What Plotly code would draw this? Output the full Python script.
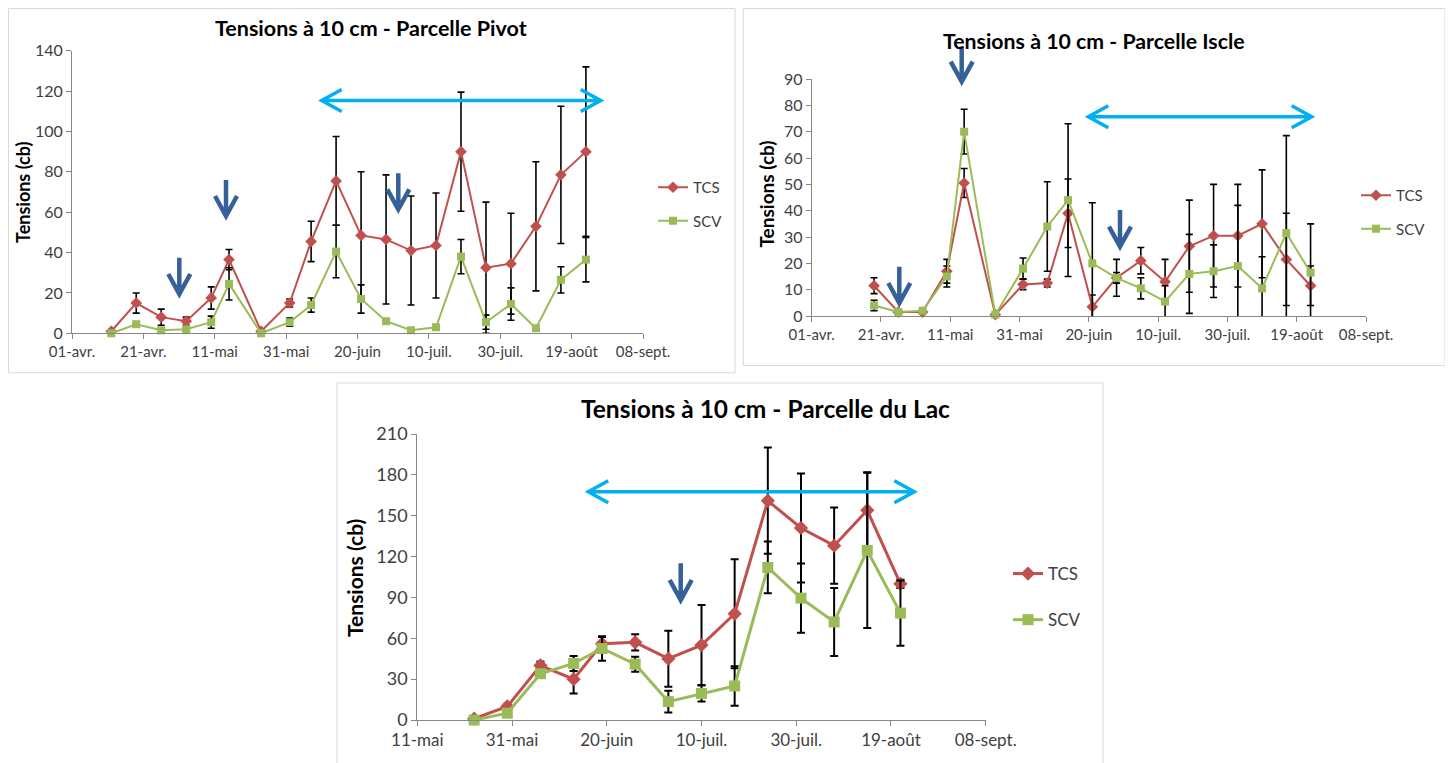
import plotly.graph_objects as go

# the page body has an 8px margin: the figure is sized to fill the rest of the window
OFF = 8
W, H = 1453 - OFF, 763 - OFF

# ---------------- data ----------------
pivot_dates = ["2010-04-12", "2010-04-19", "2010-04-26", "2010-05-03", "2010-05-10", "2010-05-15",
               "2010-05-24", "2010-06-01", "2010-06-07", "2010-06-14", "2010-06-21", "2010-06-28",
               "2010-07-05", "2010-07-12", "2010-07-19", "2010-07-26", "2010-08-02", "2010-08-09",
               "2010-08-16", "2010-08-23"]
pivot_tcs = [1, 15, 8, 6, 17.5, 36.5, 1, 15, 45.5, 75.5, 48.5, 46.5, 41, 43.5, 90, 32.5, 34.5, 53, 78.5, 90]
pivot_tcs_err = [0.5, 5, 4, 2, 5.5, 5, 0.5, 2, 10, 22, 31.5, 32, 27, 26, 29.5, 32.5, 25, 32, 34, 42]
pivot_scv = [0, 4.5, 1.5, 2, 5.5, 24.5, 0, 5.5, 14, 40.5, 17, 6, 1.5, 3, 38, 5.5, 14.5, 2.5, 26.5, 36.5]
pivot_scv_err = [0, 1, 1, 1, 3, 8, 0, 2, 3.5, 13, 7, 1, 1, 1, 8.5, 3.5, 8, 1, 6.5, 11]

iscle_dates = ["2010-04-19", "2010-04-26", "2010-05-03", "2010-05-10", "2010-05-15", "2010-05-24",
               "2010-06-01", "2010-06-08", "2010-06-14", "2010-06-21", "2010-06-28", "2010-07-05",
               "2010-07-12", "2010-07-19", "2010-07-26", "2010-08-02", "2010-08-09", "2010-08-16",
               "2010-08-23"]
iscle_tcs = [11.5, 1.5, 1.5, 17, 50.5, 0.5, 12, 12.5, 39, 3.5, 14.5, 21, 13, 26.5, 30.5, 30.5, 35, 21.5, 11.5]
iscle_tcs_err = [3, 0.5, 0.5, 4.5, 5.5, 0.3, 2, 1.5, 13, 4.5, 7, 5, 8.5, 17.5, 19.5, 19.5, 20.5, 17.5, 7.5]
iscle_scv = [4, 1.5, 2, 15, 70, 0.5, 18, 34, 44, 20, 14.5, 10.5, 5.5, 16, 17, 19, 10.5, 31.5, 16.5]
iscle_scv_err = [2, 0.5, 0.5, 4, 8.5, 0.3, 4, 17, 29, 23, 2, 4, 6, 15, 10, 23, 12, 37, 18.5]

lac_dates = ["2010-05-23", "2010-05-30", "2010-06-06", "2010-06-13", "2010-06-19", "2010-06-26",
             "2010-07-03", "2010-07-10", "2010-07-17", "2010-07-24", "2010-07-31", "2010-08-07",
             "2010-08-14", "2010-08-21"]
lac_tcs = [1, 10, 40, 30, 56, 57, 45, 55, 78, 161, 141, 128, 154, 100]
lac_tcs_err = [0.5, 2, 3, 10.5, 5, 6, 20.5, 29.5, 40, 39, 40, 28, 28, 3]
lac_scv = [0, 5, 34, 41.5, 52.5, 41, 13.5, 19.5, 25, 112, 89.5, 72, 124.5, 78.5]
lac_scv_err = [0, 1, 2, 5.5, 9, 5.5, 8, 6, 14.5, 19, 25.5, 25, 57, 24]

ticks_apr = ["2010-04-01", "2010-04-21", "2010-05-11", "2010-05-31", "2010-06-20", "2010-07-10",
             "2010-07-30", "2010-08-19", "2010-09-08"]
ticks_apr_text = ["01-avr.", "21-avr.", "11-mai", "31-mai", "20-juin", "10-juil.", "30-juil.", "19-août", "08-sept."]
ticks_mai = ["2010-05-11", "2010-05-31", "2010-06-20", "2010-07-10", "2010-07-30", "2010-08-19", "2010-09-08"]
ticks_mai_text = ["11-mai", "31-mai", "20-juin", "10-juil.", "30-juil.", "19-août", "08-sept."]

titles = ["Tensions à 10 cm - Parcelle Pivot", "Tensions à 10 cm - Parcelle Iscle",
          "Tensions à 10 cm - Parcelle du Lac"]
series_names = ["TCS", "SCV"]

RED = "#C0504D"
GREEN = "#9BBB59"
CYAN = "#00B0F0"
DBLUE = "#35609A"
AXIS = "#868686"
FONT = "Lato, 'Open Sans', sans-serif"


def fx(x):
    return (x - OFF) / W


def fy(y):
    return 1 - (y - OFF) / H


fig = go.Figure()

charts = [
    dict(dates=pivot_dates, tcs=pivot_tcs, tcse=pivot_tcs_err, scv=pivot_scv, scve=pivot_scv_err,
         xa="x", ya="y", leg="legend", lw=2, ms=(9, 8), et=1.6, ew=3.5),
    dict(dates=iscle_dates, tcs=iscle_tcs, tcse=iscle_tcs_err, scv=iscle_scv, scve=iscle_scv_err,
         xa="x2", ya="y2", leg="legend2", lw=2, ms=(9, 8), et=1.6, ew=3.5),
    dict(dates=lac_dates, tcs=lac_tcs, tcse=lac_tcs_err, scv=lac_scv, scve=lac_scv_err,
         xa="x3", ya="y3", leg="legend3", lw=3, ms=(11, 11), et=2, ew=4),
]

for i, c in enumerate(charts):
    for j, (vals, errs, col, sym) in enumerate([(c["tcs"], c["tcse"], RED, "diamond"),
                                                 (c["scv"], c["scve"], GREEN, "square")]):
        fig.add_trace(go.Scatter(
            x=c["dates"], y=vals, name=series_names[j], mode="lines+markers",
            line=dict(color=col, width=c["lw"]),
            marker=dict(symbol=sym, size=c["ms"][j], color=col, line=dict(width=0)),
            error_y=dict(type="data", array=errs, visible=True, color="black",
                         thickness=c["et"], width=c["ew"]),
            xaxis=c["xa"], yaxis=c["ya"], legend=c["leg"], legendgroup=f"{i}{j}",
            cliponaxis=False,
        ))

axis_common = dict(showgrid=False, zeroline=False, showline=True, linecolor=AXIS, linewidth=1,
                   ticks="outside", tickcolor=AXIS, ticklen=5, automargin=False,
                   tickfont=dict(family=FONT, size=15, color="#404040"))

layout = dict(
    width=W, height=H, margin=dict(l=0, r=0, t=0, b=0, pad=0, autoexpand=False),
    paper_bgcolor="white", plot_bgcolor="white",
    font=dict(family=FONT),
    xaxis=dict(axis_common, type="date", range=["2010-04-01", "2010-09-08"], tickvals=ticks_apr,
               ticktext=ticks_apr_text, domain=[fx(72), fx(643)], anchor="y"),
    yaxis=dict(axis_common, range=[0, 140], dtick=20, domain=[fy(333.3), fy(50.7)], anchor="x",
               tickfont=dict(family=FONT, size=16, color="#404040")),
    xaxis2=dict(axis_common, type="date", range=["2010-04-01", "2010-09-08"], tickvals=ticks_apr,
                ticktext=ticks_apr_text, domain=[fx(811.7), fx(1366)], anchor="y2"),
    yaxis2=dict(axis_common, range=[0, 90], dtick=10, domain=[fy(316), fy(79)], anchor="x2",
                tickfont=dict(family=FONT, size=16, color="#404040")),
    xaxis3=dict(axis_common, type="date", range=["2010-05-11", "2010-09-08"], tickvals=ticks_mai,
                ticktext=ticks_mai_text, domain=[fx(417.3), fx(985.7)], anchor="y3",
                tickfont=dict(family=FONT, size=17, color="#404040")),
    yaxis3=dict(axis_common, range=[0, 210], dtick=30, domain=[fy(720), fy(434)], anchor="x3",
                tickfont=dict(family=FONT, size=18, color="#404040")),
    legend=dict(x=fx(653), y=fy(171), xanchor="left", yanchor="top", bgcolor="rgba(0,0,0,0)",
                font=dict(family=FONT, size=15, color="#404040"), traceorder="grouped", tracegroupgap=11),
    legend2=dict(x=fx(1356), y=fy(179), xanchor="left", yanchor="top", bgcolor="rgba(0,0,0,0)",
                 font=dict(family=FONT, size=15, color="#404040"), traceorder="grouped", tracegroupgap=11),
    legend3=dict(x=fx(1008), y=fy(556), xanchor="left", yanchor="top", bgcolor="rgba(0,0,0,0)",
                 font=dict(family=FONT, size=17, color="#404040"), traceorder="grouped", tracegroupgap=21),
    showlegend=True,
)
fig.update_layout(**layout)

# titles and axis titles
ann = []
for (t, x, y, s) in [(titles[0], 371, 28, 21.5), (titles[1], 1094, 41, 21.3), (titles[2], 765.5, 408, 24.5)]:
    ann.append(dict(text=f"<b>{t}</b>", x=fx(x), y=fy(y), xref="paper", yref="paper", showarrow=False,
                    xanchor="center", yanchor="middle", font=dict(family=FONT, size=s, color="black")))
for (x, y, s) in [(22.5, 192.5, 18), (766.5, 194, 19), (354, 578, 21)]:
    ann.append(dict(text="<b>Tensions (cb)</b>", x=fx(x), y=fy(y), xref="paper", yref="paper", showarrow=False,
                    textangle=-90, xanchor="center", yanchor="middle",
                    font=dict(family=FONT, size=s, color="black")))
fig.update_layout(annotations=ann)


def P(x, y):
    return f"{fx(x):.5f},{fy(y):.5f}"


shapes = []
# panel borders
for (x0, y0, x1, y1) in [(8.5, 8.5, 735, 372.7), (743.3, 8.5, 1445, 365.5), (337, 383, 1103, 766)]:
    shapes.append(dict(type="rect", xref="paper", yref="paper", x0=fx(x0), x1=fx(x1), y0=fy(y1), y1=fy(y0),
                       line=dict(color="#D9D9D9", width=1), layer="below"))

# double cyan arrows (period)
for (xl, xr, y) in [(321.7, 600.7, 100.5), (1088.3, 1311.7, 116.7), (588.3, 914.3, 491.7)]:
    path = (f"M{P(xl, y)} L{P(xr, y)} "
            f"M{P(xl + 20, y - 11)} L{P(xl, y)} L{P(xl + 20, y + 11)} "
            f"M{P(xr - 20, y - 11)} L{P(xr, y)} L{P(xr - 20, y + 11)}")
    shapes.append(dict(type="path", xref="paper", yref="paper", path=path,
                       line=dict(color=CYAN, width=3.5)))

# dark blue down arrows
for (x, top, tip) in [(179.3, 257.7, 294), (226, 180, 216), (398.3, 173.3, 209.3),
                      (961.7, 46.7, 81.7), (899.3, 266.7, 303), (1120, 210, 246.7),
                      (680.7, 563.3, 600)]:
    path = (f"M{P(x, top)} L{P(x, tip - 2)} "
            f"M{P(x - 11, tip - 20)} L{P(x, tip)} L{P(x + 11, tip - 20)}")
    shapes.append(dict(type="path", xref="paper", yref="paper", path=path,
                       line=dict(color=DBLUE, width=4.5)))

fig.update_layout(shapes=shapes)

fig.write_html("out.html")
